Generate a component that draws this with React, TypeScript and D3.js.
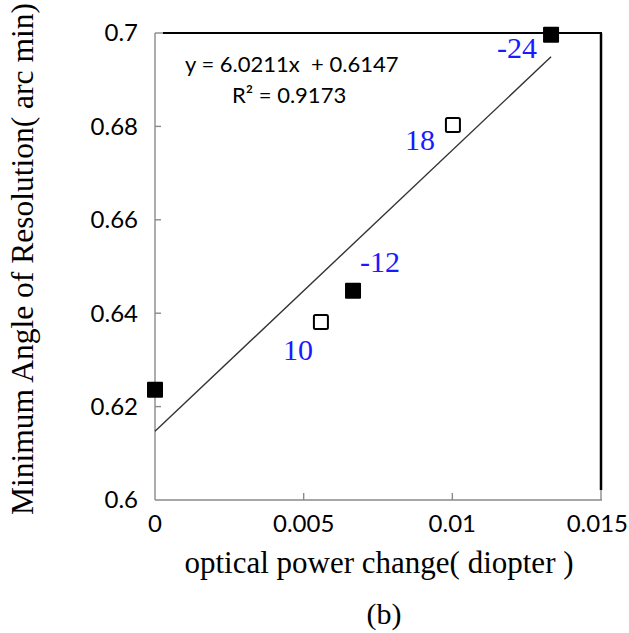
import React from "react";
import * as d3 from "d3";

// ---- data ----
const filledX = [0, 0.00666, 0.01332];
const filledY = [0.6236, 0.6448, 0.6996];
const filledLabels = ["", "-12", "-24"];
const openX = [0.00558, 0.01002];
const openY = [0.6381, 0.6803];
const openLabels = ["10", "18"];
const xTicks = [0, 0.005, 0.01, 0.015];
const xTickLabels = ["0", "0.005", "0.01", "0.015"];
const yTicks = [0.6, 0.62, 0.64, 0.66, 0.68, 0.7];
const yTickLabels = ["0.6", "0.62", "0.64", "0.66", "0.68", "0.7"];
const slope = 6.0211;
const intercept = 0.6147;
const eqText = "y = 6.0211x  + 0.6147";
const r2Text = "R² = 0.9173";
const xTitle = "optical power change( diopter )";
const yTitle = "Minimum Angle of Resolution( arc min)";
const caption = "(b)";

const W = 629;
const H = 633;
const L = 155, R = 601, T = 33, B = 500;

export default function App() {
  const x = d3.scaleLinear().domain([0, 0.015]).range([L, R]);
  const y = d3.scaleLinear().domain([0.6, 0.7]).range([B, T]);
  const axisColor = "#8a8a8a";
  const tickFont = "Lato, 'Open Sans', sans-serif";
  const serif = "'Liberation Serif', 'DejaVu Serif', serif";
  const blue = "#1a1aff";

  const allX = [...filledX, ...openX];
  const xMax = d3.max(allX) as number;
  const line = d3.line<number>().x((d) => x(d)).y((d) => y(slope * d + intercept));

  // label offsets (px) relative to marker, by label text
  const labelPos: Record<string, { dx: number; dy: number; anchor: string }> = {
    "-24": { dx: -14, dy: 23, anchor: "end" },
    "18": { dx: -18, dy: 25, anchor: "end" },
    "-12": { dx: 7, dy: -19, anchor: "start" },
    "10": { dx: -8, dy: 38, anchor: "end" },
  };

  const size = 16;

  return (
    <svg
      width={W}
      height={H}
      style={{ position: "absolute", left: 0, top: 0, background: "#fff" }}
    >
      <rect x={0} y={0} width={W} height={H} fill="#fff" />
      {/* axes */}
      <line x1={L} y1={T} x2={L} y2={B} stroke={axisColor} strokeWidth={1.4} />
      <line x1={L} y1={B} x2={R + 1} y2={B} stroke={axisColor} strokeWidth={1.4} />
      <line x1={R} y1={490} x2={R} y2={B} stroke={axisColor} strokeWidth={1.4} />
      {/* border */}
      <line x1={163} y1={T} x2={R + 1} y2={T} stroke="#000" strokeWidth={2} />
      <line x1={L} y1={T} x2={163} y2={T} stroke={axisColor} strokeWidth={1.4} />
      <line x1={R} y1={T} x2={R} y2={490} stroke="#000" strokeWidth={2.5} />

      {/* y ticks */}
      {yTicks.map((t, i) => (
        <g key={"y" + i}>
          {i > 0 && i < yTicks.length - 1 && (
            <line x1={L} x2={L + 6} y1={y(t)} y2={y(t)} stroke={axisColor} strokeWidth={1.4} />
          )}
          <text
            x={138}
            y={y(t)}
            dy="0.35em"
            textAnchor="end"
            fontFamily={tickFont}
            fontSize={24}
            fill="#000"
          >
            {yTickLabels[i]}
          </text>
        </g>
      ))}
      {/* x ticks */}
      {xTicks.map((t, i) => (
        <g key={"x" + i}>
          {i > 0 && i < xTicks.length - 1 && (
            <line x1={x(t)} x2={x(t)} y1={B} y2={B - 7} stroke={axisColor} strokeWidth={1.4} />
          )}
          <text
            x={i === xTicks.length - 1 ? W - 1 : x(t)}
            y={524}
            dy="0.35em"
            textAnchor={i === xTicks.length - 1 ? "end" : "middle"}
            fontFamily={tickFont}
            fontSize={24}
            fill="#000"
          >
            {xTickLabels[i]}
          </text>
        </g>
      ))}

      {/* trendline */}
      <path d={line([0, xMax]) || ""} fill="none" stroke="#333" strokeWidth={1.4} />

      {/* equation */}
      <text x={185} y={72} fontFamily={tickFont} fontSize={22} fill="#000" style={{ whiteSpace: "pre" }}>
        {eqText}
      </text>
      <text x={232} y={103} fontFamily={tickFont} fontSize={22} fill="#000">
        {r2Text}
      </text>

      {/* markers */}
      {openX.map((v, i) => (
        <rect
          key={"o" + i}
          x={x(v) - size / 2 + 1}
          y={y(openY[i]) - size / 2 + 1}
          width={size - 2}
          height={size - 2}
          rx={1.5}
          fill="#fff"
          stroke="#000"
          strokeWidth={2}
        />
      ))}
      {filledX.map((v, i) => (
        <rect
          key={"f" + i}
          x={x(v) - size / 2}
          y={y(filledY[i]) - size / 2}
          width={size}
          height={size}
          rx={1}
          fill="#000"
        />
      ))}

      {/* labels */}
      {[...filledX.map((v, i) => ({ vx: v, vy: filledY[i], lab: filledLabels[i] })),
        ...openX.map((v, i) => ({ vx: v, vy: openY[i], lab: openLabels[i] }))]
        .filter((d) => d.lab && labelPos[d.lab])
        .map((d, i) => {
          const p = labelPos[d.lab];
          return (
            <text
              key={"l" + i}
              x={x(d.vx) + p.dx}
              y={y(d.vy) + p.dy}
              textAnchor={p.anchor as any}
              fontFamily={serif}
              fontSize={30}
              fill={blue}
            >
              {d.lab}
            </text>
          );
        })}

      {/* titles */}
      <text
        x={(L + R) / 2 + 1}
        y={573}
        textAnchor="middle"
        fontFamily={serif}
        fontSize={31}
        fill="#000"
      >
        {xTitle}
      </text>
      <text
        transform={`translate(33, ${259}) rotate(-90)`}
        textAnchor="middle"
        fontFamily={serif}
        fontSize={31.5}
        fill="#000"
      >
        {yTitle}
      </text>
      <text x={384} y={624} textAnchor="middle" fontFamily={serif} fontSize={30} fill="#000">
        {caption}
      </text>
    </svg>
  );
}
